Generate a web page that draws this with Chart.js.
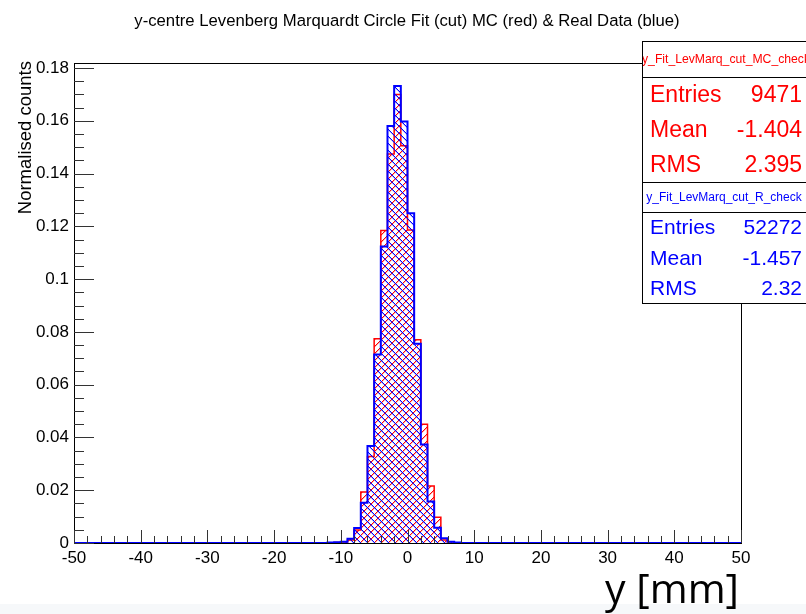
<!DOCTYPE html>
<html>
<head>
<meta charset="utf-8">
<script src="https://cdn.jsdelivr.net/npm/chart.js@4.4.1/dist/chart.umd.min.js"></script>
<style>
    body { margin: 0; background: #fff; }
    #wrap { width: 806px; height: 614px; }
</style>
</head>
<body>
<div id="wrap"><canvas id="histChart" width="806" height="614"></canvas></div>
<script>
// bin low edges (1 mm bins between -12 and 8, empty outside)
const binEdges = [-50, -12, -11, -10, -9, -8, -7, -6, -5, -4, -3, -2, -1, 0, 1, 2, 3, 4, 5, 6, 7, 8, 50];
const realValues = [0, 0.0002, 0.0003, 0.0005, 0.0016, 0.0057, 0.0153, 0.0368, 0.0714, 0.1124, 0.158, 0.1732, 0.1597, 0.125, 0.0755, 0.0373, 0.0157, 0.0058, 0.0018, 0.0005, 0.0002, 0, 0];
const mcValues = [0, 0.0001, 0.0002, 0.0004, 0.0011, 0.0049, 0.0193, 0.0328, 0.0774, 0.1184, 0.1474, 0.170, 0.1505, 0.1186, 0.077, 0.045, 0.0216, 0.0098, 0.0011, 0.0004, 0.0001, 0, 0];

const xTicks = [-50, -40, -30, -20, -10, 0, 10, 20, 30, 40, 50];
const yTicks = [0, 0.02, 0.04, 0.06, 0.08, 0.1, 0.12, 0.14, 0.16, 0.18];

const statLabels = ["Entries", "Mean", "RMS"];
const mcStats = ["9471", "-1.404", "2.395"];
const realStats = ["52272", "-1.457", "2.32"];

const TITLE = "y-centre Levenberg Marquardt Circle Fit (cut) MC (red) & Real Data (blue)";
const FONT = '"Liberation Sans", Arial, sans-serif';

const canvas = document.getElementById("histChart");
const ctx = canvas.getContext("2d");

function makeHatch(color, dir) {
    const s = 7;
    const tile = document.createElement("canvas");
    tile.width = s;
    tile.height = s;
    const g = tile.getContext("2d");
    g.fillStyle = color;
    for (let i = 0; i < s; i++) {
        const y = dir === "/" ? s - 1 - i : i;
        g.globalAlpha = 1;
        g.fillRect(i, y, 1, 1);
        g.globalAlpha = 0.3;
        g.fillRect(i, (y + 1) % s, 1, 1);
    }
    return ctx.createPattern(tile, "repeat");
}

function toPoints(values) {
    return binEdges.map((x, i) => ({ x: x, y: values[i] }));
}

function drawStatBox(c, box) {
    c.save();
    c.fillStyle = "#fff";
    c.fillRect(box.left, box.top, 820 - box.left, box.bottom - box.top);
    c.strokeStyle = "#000";
    c.lineWidth = 1;
    c.strokeRect(box.left + 0.5, box.top + 0.5, 830 - box.left, box.bottom - box.top);
    c.beginPath();
    c.moveTo(box.left, box.sep + 0.5);
    c.lineTo(806, box.sep + 0.5);
    c.stroke();

    // header, clipped by the box
    c.save();
    c.beginPath();
    c.rect(box.left + 1, box.top + 1, 806 - box.left, box.sep - box.top - 1);
    c.clip();
    c.fillStyle = box.color;
    c.font = `${box.headSize}px ${FONT}`;
    c.textAlign = "center";
    c.textBaseline = "middle";
    c.fillText(box.header, box.headX, (box.top + box.sep) / 2 + 1);
    c.restore();

    c.fillStyle = box.color;
    c.font = `${box.size}px ${FONT}`;
    c.textBaseline = "middle";
    const rowH = (box.bottom - box.sep) / statLabels.length;
    statLabels.forEach((label, i) => {
        const y = box.sep + rowH * (i + 0.5) + 1.5;
        c.textAlign = "left";
        c.fillText(label, 650, y);
        c.textAlign = "right";
        c.fillText(box.values[i], 802, y);
    });
    c.restore();
}

const rootStyle = {
    id: "rootStyle",
    beforeDraw(chart) {
        const c = chart.ctx;
        c.save();
        c.fillStyle = "#fff";
        c.fillRect(0, 0, chart.width, chart.height);
        c.fillStyle = "#f6f8fa";
        c.fillRect(0, 604, chart.width, chart.height - 604);
        c.restore();
    },
    afterDatasetsDraw(chart) {
        const c = chart.ctx;
        const a = chart.chartArea;
        const xs = chart.scales.x;
        const ys = chart.scales.y;
        c.save();
        c.strokeStyle = "#000";
        c.lineWidth = 1;
        c.strokeRect(Math.round(a.left) + 0.5, Math.round(a.top) + 0.5, Math.round(a.right - a.left), Math.round(a.bottom - a.top));

        // ticks drawn inside the frame
        c.strokeStyle = "#333";
        c.beginPath();
        for (let v = -50; v <= 50; v += 2) {
            const px = Math.round(xs.getPixelForValue(v)) + 0.5;
            const len = v % 10 === 0 ? 13 : 7;
            c.moveTo(px, a.bottom);
            c.lineTo(px, a.bottom - len);
        }
        for (let k = 0; k <= 36; k++) {
            const v = k * 0.005;
            const py = Math.round(ys.getPixelForValue(v)) + 0.5;
            const len = k % 4 === 0 ? 20 : 10;
            c.moveTo(a.left, py);
            c.lineTo(a.left + len, py);
        }
        c.stroke();
        c.restore();
    },
    afterDraw(chart) {
        const c = chart.ctx;
        c.save();
        c.fillStyle = "#000";
        c.font = `16.7px ${FONT}`;
        c.textAlign = "center";
        c.textBaseline = "middle";
        c.fillText(TITLE, 407, 21);

        c.save();
        c.translate(26, 61);
        c.rotate(-Math.PI / 2);
        c.textAlign = "right";
        c.font = `18.5px ${FONT}`;
        c.fillText("Normalised counts", 0, 0);
        c.restore();

        c.font = '41px "Open Sans", sans-serif';
        c.textAlign = "right";
        c.textBaseline = "alphabetic";
        c.fillText("y [mm]", 739, 603);
        c.restore();

        drawStatBox(c, { left: 642, top: 41, sep: 77, bottom: 182, color: "#ff0000", header: "y_Fit_LevMarq_cut_MC_check", headSize: 12.2, headX: 726, size: 23, values: mcStats });
        drawStatBox(c, { left: 642, top: 182, sep: 212, bottom: 303, color: "#0000ff", header: "y_Fit_LevMarq_cut_R_check", headSize: 12, headX: 724, size: 21, values: realStats });
    },
};

const tickFont = { family: FONT, size: 17 };

new Chart(ctx, {
    type: "line",
    data: {
        datasets: [
            {
                label: "y_Fit_LevMarq_cut_R_check",
                data: toPoints(realValues),
                borderColor: "#0000ff",
                borderWidth: 2,
                backgroundColor: makeHatch("#0000ff", "\\"),
                fill: "origin",
                stepped: "before",
                pointRadius: 0,
            },
            {
                label: "y_Fit_LevMarq_cut_MC_check",
                data: toPoints(mcValues),
                borderColor: "#ff0000",
                borderWidth: 1.5,
                backgroundColor: makeHatch("#ff0000", "/"),
                fill: "origin",
                stepped: "before",
                pointRadius: 0,
            },
        ],
    },
    options: {
        responsive: false,
        animation: false,
        devicePixelRatio: 1,
        layout: { padding: { top: 63, right: 65, left: 0, bottom: 0 } },
        plugins: {
            legend: { display: false },
            title: { display: false },
            tooltip: { enabled: false },
        },
        scales: {
            x: {
                type: "linear",
                min: -50,
                max: 50,
                afterBuildTicks: (scale) => {
                    scale.ticks = xTicks.map((v) => ({ value: v }));
                },
                afterFit: (scale) => {
                    scale.height = 71;
                },
                grid: { display: false, drawTicks: false },
                border: { display: false },
                ticks: { font: tickFont, color: "#000", padding: 5, maxRotation: 0, autoSkip: false },
            },
            y: {
                min: 0,
                max: 0.1819,
                afterBuildTicks: (scale) => {
                    scale.ticks = yTicks.map((v) => ({ value: v }));
                },
                afterFit: (scale) => {
                    scale.width = 74;
                },
                grid: { display: false, drawTicks: false },
                border: { display: false },
                ticks: {
                    font: tickFont,
                    color: "#000",
                    padding: 5,
                    autoSkip: false,
                    callback: (v) => String(+v.toFixed(2)),
                },
            },
        },
    },
    plugins: [rootStyle],
});
</script>
</body>
</html>
